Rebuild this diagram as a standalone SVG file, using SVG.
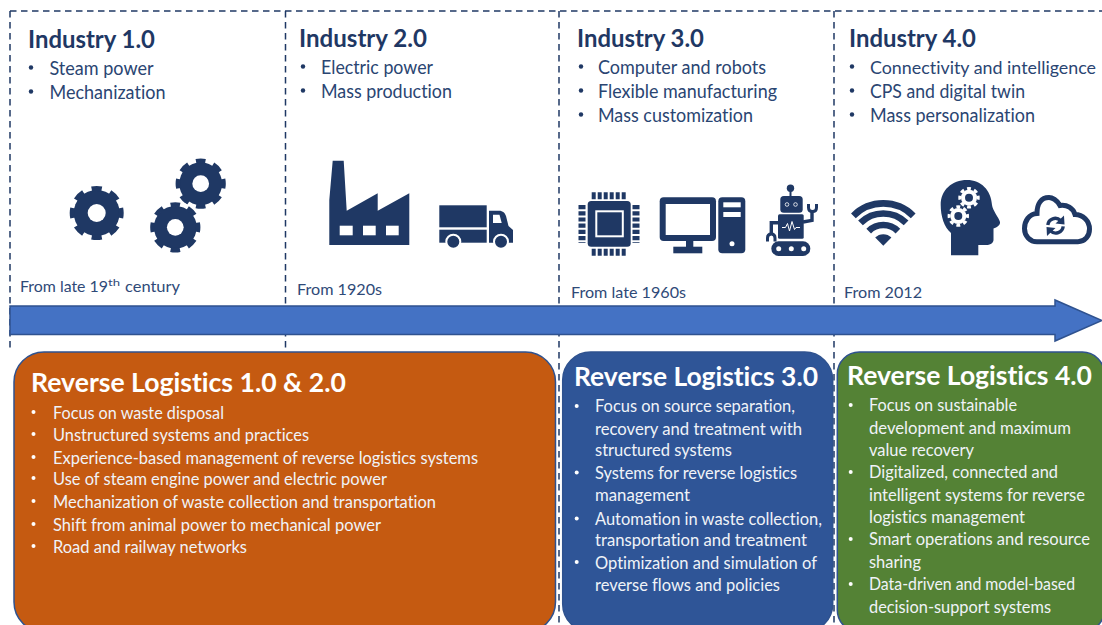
<svg xmlns="http://www.w3.org/2000/svg" width="1102" height="625" viewBox="0 0 1102 625">
<style>
text{font-family:Lato,"Open Sans","Liberation Sans",sans-serif;font-variant-ligatures:none;}
.h{font-size:24px;font-weight:700;fill:#1f3864}
.b{font-size:18.5px;fill:#2a4572}
.d{font-size:16px;fill:#2f4a78}
.t{font-size:27px;font-weight:700;fill:#fff}
.w{font-size:17px;fill:#f0f3f8}
.dot{fill:#1f3864}
.wd{fill:#fff}
.i{fill:#1f3864}
.hole{fill:#fff}
.dash{fill:none;stroke:#1f3864;stroke-width:1.5;stroke-dasharray:6.5 4.5}
.box{stroke:#2f528f;stroke-width:1.5}
.ln{fill:none;stroke:#1f3864}
</style>
<defs>
<g id="gear">
<circle r="23" class="i"/>
<circle r="24.5" fill="none" stroke="#1f3864" stroke-width="5" pathLength="80" stroke-dasharray="5.4 4.6" stroke-dashoffset="2.7"/>
<circle r="9" class="hole"/>
</g>
<g id="wgear">
<circle r="8" fill="#fff"/>
<circle r="9.2" fill="none" stroke="#fff" stroke-width="3" pathLength="80" stroke-dasharray="5.4 4.6" stroke-dashoffset="2.7"/>
<circle r="4" fill="#1f3864"/>
</g>
</defs>
<g id="connectors">
<path class="dash" d="M10,11H1102"/>
<path class="dash" d="M10,11V352"/>
<path class="dash" d="M285.5,11V352"/>
<path class="dash" d="M559,11V625"/>
<path class="dash" d="M834,11V625"/>
<path id="timeline" d="M10,306H1055V300L1102,320.500L1055,341V334.500H10Z" fill="#4472c4" stroke="#2f528f" stroke-width="1.5"/>
</g>
<g id="industry-1">
<text class="h" x="28" y="47.500" textLength="127" lengthAdjust="spacingAndGlyphs">Industry 1.0</text>
<circle class="dot" cx="31" cy="67.500" r="2.200"/><text class="b" x="49.500" y="74.500" textLength="104" lengthAdjust="spacingAndGlyphs">Steam power</text>
<circle class="dot" cx="31" cy="91.500" r="2.200"/><text class="b" x="49.500" y="98.500" textLength="116" lengthAdjust="spacingAndGlyphs">Mechanization</text>
<use href="#gear" transform="translate(96.700,213)"/>
<use href="#gear" transform="translate(200.700,183.700) scale(.93)"/>
<circle cx="175.300" cy="227.300" r="26" fill="#fff"/>
<use href="#gear" transform="translate(175.300,227.300) scale(.93)"/>
<text class="d" x="20" y="292" textLength="88" lengthAdjust="spacingAndGlyphs">From late 19</text>
<text class="d" style="font-size:10px" x="108" y="286" textLength="12" lengthAdjust="spacingAndGlyphs">th</text>
<text class="d" x="125" y="292" textLength="55" lengthAdjust="spacingAndGlyphs">century</text>
</g>
<g id="industry-2">
<text class="h" x="299" y="46.700" textLength="128" lengthAdjust="spacingAndGlyphs">Industry 2.0</text>
<circle class="dot" cx="303" cy="66.500" r="2.200"/><text class="b" x="321" y="73.500" textLength="112" lengthAdjust="spacingAndGlyphs">Electric power</text>
<circle class="dot" cx="303" cy="90.500" r="2.200"/><text class="b" x="321" y="97.500" textLength="131" lengthAdjust="spacingAndGlyphs">Mass production</text>
<path class="i" d="M332.700,160.700H343.700L346.700,210.700L377.700,193.300V210.700L409.300,193.300V245H329.300V200Z"/>
<rect class="hole" x="339.700" y="225.700" width="13" height="9.600"/>
<rect class="hole" x="363" y="225.700" width="12.700" height="9.600"/>
<rect class="hole" x="386" y="225.700" width="12.700" height="9.600"/>
<rect class="i" x="439.300" y="205.300" width="47.400" height="22"/>
<rect class="i" x="439.300" y="229.700" width="47.400" height="13"/>
<path class="i" d="M489,210.700H499C503,210.700 505,213 506,216L508.500,226L513,230V242.700H489Z"/>
<path class="hole" d="M493,214.700H499.500L501.700,223H493Z"/>
<circle class="i" cx="453.300" cy="241.700" r="7" stroke="#fff" stroke-width="2"/>
<circle class="i" cx="501" cy="241.700" r="7" stroke="#fff" stroke-width="2"/>
<text class="d" x="297" y="295" textLength="85" lengthAdjust="spacingAndGlyphs">From 1920s</text>
</g>
<g id="industry-3">
<text class="h" x="577" y="46.700" textLength="127" lengthAdjust="spacingAndGlyphs">Industry 3.0</text>
<circle class="dot" cx="581" cy="66.500" r="2.200"/><text class="b" x="598" y="73.500" textLength="168" lengthAdjust="spacingAndGlyphs">Computer and robots</text>
<circle class="dot" cx="581" cy="90.500" r="2.200"/><text class="b" x="598" y="97.500" textLength="179" lengthAdjust="spacingAndGlyphs">Flexible manufacturing</text>
<circle class="dot" cx="581" cy="114.500" r="2.200"/><text class="b" x="598" y="121.500" textLength="155" lengthAdjust="spacingAndGlyphs">Mass customization</text>
<rect class="i" x="587.700" y="201" width="43" height="45.700" rx="3.500"/>
<rect x="596.300" y="211.300" width="26.500" height="25" fill="#1f3864" stroke="#fff" stroke-width="2"/>
<path class="ln" d="M591.700,195.800H627M591.700,252.300H627" stroke-width="7" stroke-dasharray="4 2"/>
<path class="ln" d="M582,205V243M636,205V243" stroke-width="7" stroke-dasharray="4.200 2"/>
<rect class="i" x="659.700" y="197.300" width="56.300" height="43.700" rx="4"/>
<rect class="hole" x="665.700" y="204" width="44.300" height="31"/>
<rect class="i" x="686" y="240" width="7.300" height="8"/>
<rect class="i" x="673.300" y="246.700" width="29" height="6.600"/>
<rect class="i" x="718.300" y="197.300" width="27" height="56" rx="4"/>
<rect class="hole" x="723.300" y="202.300" width="17.400" height="5"/>
<rect class="hole" x="723.300" y="212" width="17.400" height="5"/>
<circle class="hole" cx="732" cy="243.700" r="2.500"/>
<circle class="i" cx="790.500" cy="188.300" r="3.700"/>
<rect class="i" x="789.500" y="190" width="2" height="7"/>
<rect class="i" x="780.300" y="196" width="22.400" height="16.700" rx="3.500"/>
<circle cx="787" cy="204.500" r="1.800" fill="#1f3864" stroke="#fff" stroke-width=".8"/>
<circle cx="795.500" cy="204.500" r="1.800" fill="#1f3864" stroke="#fff" stroke-width=".8"/>
<rect class="i" x="778" y="214.300" width="25.700" height="24.400" rx="1.500"/>
<path d="M782,227.500H785.500L787.500,223.500L789.500,231L792,221.500L794.500,229.500L796,227.500H800" fill="none" stroke="#fff" stroke-width="1"/>
<rect class="i" x="771.300" y="241.300" width="39" height="14.700" rx="7.300"/>
<circle class="hole" cx="778.700" cy="248.700" r="2.500"/>
<circle class="hole" cx="791.300" cy="248.700" r="2.500"/>
<circle class="hole" cx="803.700" cy="248.700" r="2.500"/>
<path class="ln" d="M803,222L812,220.300V211.500" stroke-width="3.400"/>
<path class="ln" d="M808.500,204V207.500Q808.500,211.500 812.500,211.500Q816.500,211.500 816.500,207.500V204" stroke-width="3"/>
<path class="ln" d="M778.500,222.700H771.300V234" stroke-width="3.400"/>
<path class="ln" d="M767.500,241.500V238Q767.500,234 771.300,234Q775,234 775,238V241.500" stroke-width="3"/>
<text class="d" x="571" y="298" textLength="115" lengthAdjust="spacingAndGlyphs">From late 1960s</text>
</g>
<g id="industry-4">
<text class="h" x="849" y="46.700" textLength="127" lengthAdjust="spacingAndGlyphs">Industry 4.0</text>
<circle class="dot" cx="852" cy="66.500" r="2.200"/><text class="b" style="font-size:17.8px" x="870" y="73.500" textLength="226" lengthAdjust="spacingAndGlyphs">Connectivity and intelligence</text>
<circle class="dot" cx="852" cy="90.500" r="2.200"/><text class="b" x="870" y="97.500" textLength="155" lengthAdjust="spacingAndGlyphs">CPS and digital twin</text>
<circle class="dot" cx="852" cy="114.500" r="2.200"/><text class="b" x="870" y="121.500" textLength="165" lengthAdjust="spacingAndGlyphs">Mass personalization</text>
<path class="ln" d="M853.400,215.800A42.300,42.300 0 0 1 913.200,215.800" stroke-width="6.700"/>
<path class="ln" d="M860.500,222.900A32.300,32.300 0 0 1 906.100,222.900" stroke-width="6.700"/>
<path class="ln" d="M868.700,231.100A20.700,20.700 0 0 1 897.900,231.100" stroke-width="6.600"/>
<path class="i" d="M883.300,245.700L875.200,237.600A11.400,11.400 0 0 1 891.400,237.600Z"/>
<path class="i" d="M951,255.300V233C944,227 940.700,216 940.700,205C940.700,190 952,180 967,180C981,180 991,190 992,205C992.500,210 999,218 1000,222C1000.500,225 997,227.500 993.500,228.500V240C993.500,243 990,245 986,245H978.300V255.300Z"/>
<use href="#wgear" transform="translate(969,197.700)"/>
<use href="#wgear" transform="translate(958.300,216)"/>
<path d="M1037,241.700H1078C1085,241.700 1089.500,236 1089.500,229C1089.500,221 1083,214.500 1075,214.500C1073,208 1067,204.500 1060,205.500C1057,200 1052,197.500 1049,197.500C1041,197.500 1037,204 1037,213.500C1029,214 1024.500,221 1024.500,228.500C1024.500,236 1030,241.700 1037,241.700Z" fill="#fff" stroke="#1f3864" stroke-width="5"/>
<g id="sync">
<path class="ln" d="M1047.800,225A7.500,7.500 0 0 1 1060.500,220.500" stroke-width="3.400"/>
<path class="i" d="M1064,215.500L1064.500,224.500L1055.500,223.500Z"/>
<path class="ln" transform="rotate(180 1055.500 225.700)" d="M1047.800,225A7.500,7.500 0 0 1 1060.500,220.500" stroke-width="3.400"/>
<path class="i" transform="rotate(180 1055.500 225.700)" d="M1064,215.500L1064.500,224.500L1055.500,223.500Z"/>
</g>
<text class="d" x="844" y="298" textLength="78" lengthAdjust="spacingAndGlyphs">From 2012</text>
</g>
<g id="reverse-logistics-1-2">
<rect class="box" x="14" y="352" width="541.500" height="280" rx="30" fill="#c55a11"/>
<text class="t" x="31" y="391.500" textLength="315" lengthAdjust="spacingAndGlyphs">Reverse Logistics 1.0 &amp; 2.0</text>
<circle class="wd" cx="33.500" cy="412" r="2"/><text class="w" x="53" y="418.500" textLength="171" lengthAdjust="spacingAndGlyphs">Focus on waste disposal</text>
<circle class="wd" cx="33.500" cy="434" r="2"/><text class="w" x="53" y="441" textLength="256" lengthAdjust="spacingAndGlyphs">Unstructured systems and practices</text>
<circle class="wd" cx="33.500" cy="457" r="2"/><text class="w" x="53" y="463.500" textLength="425" lengthAdjust="spacingAndGlyphs">Experience-based management of reverse logistics systems</text>
<circle class="wd" cx="33.500" cy="478" r="2"/><text class="w" x="53" y="485" textLength="334" lengthAdjust="spacingAndGlyphs">Use of steam engine power and electric power</text>
<circle class="wd" cx="33.500" cy="501" r="2"/><text class="w" x="53" y="508" textLength="383" lengthAdjust="spacingAndGlyphs">Mechanization of waste collection and transportation</text>
<circle class="wd" cx="33.500" cy="524" r="2"/><text class="w" x="53" y="531" textLength="328" lengthAdjust="spacingAndGlyphs">Shift from animal power to mechanical power</text>
<circle class="wd" cx="33.500" cy="546" r="2"/><text class="w" x="53" y="552.500" textLength="194" lengthAdjust="spacingAndGlyphs">Road and railway networks</text>
</g>
<g id="reverse-logistics-3">
<rect class="box" x="562.700" y="352" width="270" height="280" rx="28" fill="#2f5597"/>
<text class="t" x="574" y="386" textLength="244" lengthAdjust="spacingAndGlyphs">Reverse Logistics 3.0</text>
<circle class="wd" cx="576.700" cy="406" r="2"/><text class="w" x="595" y="412" textLength="200" lengthAdjust="spacingAndGlyphs">Focus on source separation,</text>
<text class="w" x="595" y="435" textLength="207" lengthAdjust="spacingAndGlyphs">recovery and treatment with</text>
<text class="w" x="595" y="456" textLength="137" lengthAdjust="spacingAndGlyphs">structured systems</text>
<circle class="wd" cx="576.700" cy="472.500" r="2"/><text class="w" x="595" y="478.500" textLength="202" lengthAdjust="spacingAndGlyphs">Systems for reverse logistics</text>
<text class="w" x="595" y="501" textLength="95" lengthAdjust="spacingAndGlyphs">management</text>
<circle class="wd" cx="576.700" cy="518.500" r="2"/><text class="w" x="595" y="525" textLength="227" lengthAdjust="spacingAndGlyphs">Automation in waste collection,</text>
<text class="w" x="595" y="546" textLength="212" lengthAdjust="spacingAndGlyphs">transportation and treatment</text>
<circle class="wd" cx="576.700" cy="562" r="2"/><text class="w" x="595" y="568.500" textLength="222" lengthAdjust="spacingAndGlyphs">Optimization and simulation of</text>
<text class="w" x="595" y="591" textLength="185" lengthAdjust="spacingAndGlyphs">reverse flows and policies</text>
</g>
<g id="reverse-logistics-4">
<rect class="box" x="837.300" y="352" width="267" height="280" rx="22" fill="#548235"/>
<text class="t" x="847" y="384.500" textLength="245" lengthAdjust="spacingAndGlyphs">Reverse Logistics 4.0</text>
<circle class="wd" cx="850.700" cy="405" r="2"/><text class="w" x="869" y="411" textLength="148" lengthAdjust="spacingAndGlyphs">Focus on sustainable</text>
<text class="w" x="869" y="433.500" textLength="202" lengthAdjust="spacingAndGlyphs">development and maximum</text>
<text class="w" x="869" y="455.500" textLength="105" lengthAdjust="spacingAndGlyphs">value recovery</text>
<circle class="wd" cx="850.700" cy="472" r="2"/><text class="w" x="869" y="478" textLength="189" lengthAdjust="spacingAndGlyphs">Digitalized, connected and</text>
<text class="w" x="869" y="501" textLength="216" lengthAdjust="spacingAndGlyphs">intelligent systems for reverse</text>
<text class="w" x="869" y="523" textLength="156" lengthAdjust="spacingAndGlyphs">logistics management</text>
<circle class="wd" cx="850.700" cy="539" r="2"/><text class="w" x="869" y="545" textLength="221" lengthAdjust="spacingAndGlyphs">Smart operations and resource</text>
<text class="w" x="869" y="568" textLength="52" lengthAdjust="spacingAndGlyphs">sharing</text>
<circle class="wd" cx="850.700" cy="584" r="2"/><text class="w" x="869" y="590" textLength="206" lengthAdjust="spacingAndGlyphs">Data-driven and model-based</text>
<text class="w" x="869" y="613" textLength="182" lengthAdjust="spacingAndGlyphs">decision-support systems</text>
</g>
</svg>
